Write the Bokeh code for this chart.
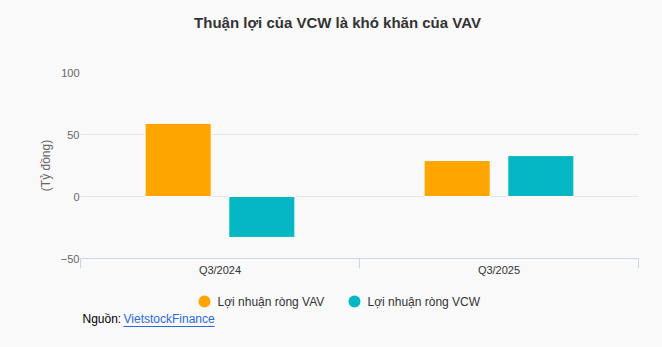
from bokeh.plotting import figure
from bokeh.models import Range1d, FixedTicker, ColumnDataSource
from bokeh.layouts import column
from bokeh.transform import dodge
from bokeh.core.properties import value
from bokeh.embed import file_html
from bokeh.resources import INLINE

# ---- data ----
categories = ["Q3/2024", "Q3/2025"]
vav_profit = [59, 29]
vcw_profit = [-33, 33]
series_names = ["Lợi nhuận ròng VAV", "Lợi nhuận ròng VCW"]
y_ticks = [-50, 0, 50, 100]
title_text = "Thuận lợi của VCW là khó khăn của VAV"
y_title = "(Tỷ đồng)"
source_prefix = "Nguồn:"
source_link = "VietstockFinance"

FONT = "Liberation Sans"
BG = "#f9f9f9"
C_VAV = "#FFA500"
C_VCW = "#05B6C4"
W = 662
LEFT, RIGHT = 80, 24


def bare_fig(h):
    # frame aligned with the main chart's frame; x coordinates are canvas pixels
    f = figure(width=W, height=h, output_backend="svg", toolbar_location=None,
               x_range=Range1d(LEFT, W - RIGHT), y_range=Range1d(h, 0),
               x_axis_type=None, y_axis_type=None,
               min_border_left=LEFT, min_border_right=RIGHT, min_border_top=0,
               min_border_bottom=0)
    f.background_fill_color = BG
    f.border_fill_color = BG
    f.outline_line_color = None
    f.xgrid.visible = False
    f.ygrid.visible = False
    return f


# ---- title strip ----
top = bare_fig(50)
top.text(x=[337], y=[22], text=[title_text], text_font=value(FONT),
         text_font_size="15px", text_font_style="bold", text_color="#333333",
         text_align="center", text_baseline="middle")

# ---- main chart ----
idx = list(range(len(categories)))
centers = [i + 0.5 for i in idx]

p = figure(width=W, height=237, output_backend="svg", toolbar_location=None,
           x_range=Range1d(0, len(categories)), y_range=Range1d(-50, 100),
           min_border_left=LEFT, min_border_right=RIGHT, min_border_top=22,
           min_border_bottom=29)
p.background_fill_color = BG
p.border_fill_color = BG
p.outline_line_color = None

src = ColumnDataSource(dict(x=centers, vav=vav_profit, vcw=vcw_profit))
p.vbar(x=dodge("x", -0.15), top="vav", width=0.237, source=src,
       fill_color=C_VAV, line_color="white", line_width=1)
p.vbar(x=dodge("x", 0.15), top="vcw", width=0.237, source=src,
       fill_color=C_VCW, line_color="white", line_width=1)

xa = p.xaxis[0]
xa.ticker = FixedTicker(ticks=centers, minor_ticks=[0] + [i + 1 for i in idx])
xa.major_label_overrides = {c: categories[i] for i, c in enumerate(centers)}
xa.axis_line_color = "#ccd6eb"
xa.major_tick_line_color = None
xa.major_tick_out = 0
xa.major_tick_in = 0
xa.minor_tick_line_color = "#ccd6eb"
xa.minor_tick_out = 10
xa.minor_tick_in = 0
xa.major_label_standoff = -5
xa.major_label_text_font = FONT
xa.major_label_text_font_size = "11px"
xa.major_label_text_color = "#333333"

ya = p.yaxis[0]
ya.ticker = FixedTicker(ticks=y_ticks, minor_ticks=[])
ya.axis_line_color = None
ya.major_tick_line_color = None
ya.major_tick_out = 0
ya.major_tick_in = 0
ya.minor_tick_line_color = None
ya.major_label_standoff = 1
ya.major_label_text_baseline = "bottom"
ya.major_label_text_font = FONT
ya.major_label_text_font_size = "11px"
ya.major_label_text_color = "#666666"
ya.axis_label = y_title
ya.axis_label_text_font = FONT
ya.axis_label_text_font_size = "12px"
ya.axis_label_text_font_style = "normal"
ya.axis_label_text_color = "#666666"
ya.axis_label_standoff = 5

p.xgrid.grid_line_color = None
p.ygrid.grid_line_color = "#e6e6e6"

# ---- footer: legend + source ----
foot = bare_fig(60)
leg_x = [204, 354]
foot.scatter(x=leg_x, y=[14, 14], size=12, marker="circle",
             fill_color=[C_VAV, C_VCW], line_color=None)
foot.text(x=[x + 13 for x in leg_x], y=[14, 14], text=series_names,
          text_font=value(FONT), text_font_size="12px", text_color="#333333",
          text_align="left", text_baseline="middle")
foot.text(x=[82], y=[31], text=[source_prefix], text_font=value(FONT),
          text_font_size="12px", text_color="#000000", text_align="left",
          text_baseline="middle")
foot.text(x=[123], y=[31], text=[source_link], text_font=value(FONT),
          text_font_size="12px", text_color="#2a6ae0", text_align="left",
          text_baseline="middle")
foot.segment(x0=[123], x1=[214], y0=[39], y1=[39], line_color="#2a6ae0",
             line_width=1)

layout = column(top, p, foot, spacing=0)
layout.styles = {"background-color": BG}
open("out.html", "w").write(file_html(layout, INLINE))
